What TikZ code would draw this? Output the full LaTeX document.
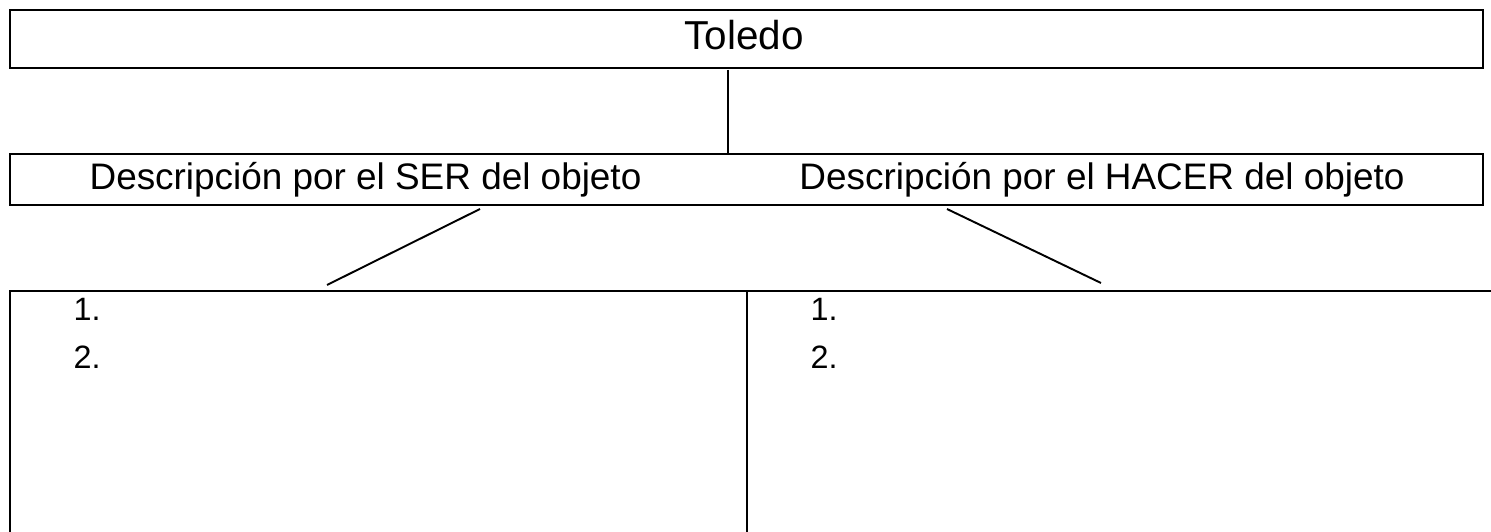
\documentclass[tikz,border=0pt]{standalone}
\usepackage{fontspec}
\setmainfont{Liberation Sans}
\begin{document}
\begin{tikzpicture}[
	box/.style={draw, line width=0.7pt, inner sep=0pt},
	label/.style={anchor=base, inner sep=0pt, font=\fontsize{10.5}{12}\selectfont},
	item/.style={anchor=base west, inner sep=0pt, font=\fontsize{9.2}{11}\selectfont},
	link/.style={line width=0.55pt}]
\useasboundingbox (0,0) rectangle (14.91,-5.32);

% title box
\node[box, minimum width=14.73cm, minimum height=0.58cm] (toledo) at (7.465,-0.39) {};
\node[label, font=\fontsize{11.5}{13}\selectfont] (title) at (7.44,-0.50) {Toledo};

% description box
\node[box, minimum width=14.73cm, minimum height=0.51cm] (desc) at (7.465,-1.795) {};
\node[label] (ser) at (3.655,-1.90) {Descripción por el SER del objeto};
\node[label] (hacer) at (11.02,-1.90) {Descripción por el HACER del objeto};

% title line
\coordinate (stem) at (7.28,-0.70);
\draw[line width=0.4pt] (stem) -- (stem |- desc.north);

% branch lines
\coordinate (serA) at (4.80,-2.09);
\coordinate (serB) at (3.27,-2.85);
\coordinate (hacerA) at (9.47,-2.09);
\coordinate (hacerB) at (11.01,-2.83);
\draw[link] (serA) -- (serB);
\draw[link] (hacerA) -- (hacerB);

% open table
\coordinate (tl) at (0.10,-2.91);
\coordinate (mid) at (7.47,-2.91);
\draw[line width=0.7pt] (0.10,-5.40) -- (tl) -- (15.0,-2.91);
\draw[line width=0.7pt] (mid) -- (7.47,-5.40);

% list entries
\node[item] (ser1) at (0.73,-3.21) {1.};
\node[item] (ser2) at (0.73,-3.69) {2.};
\node[item] (hacer1) at (8.10,-3.21) {1.};
\node[item] (hacer2) at (8.10,-3.69) {2.};
\end{tikzpicture}
\end{document}
